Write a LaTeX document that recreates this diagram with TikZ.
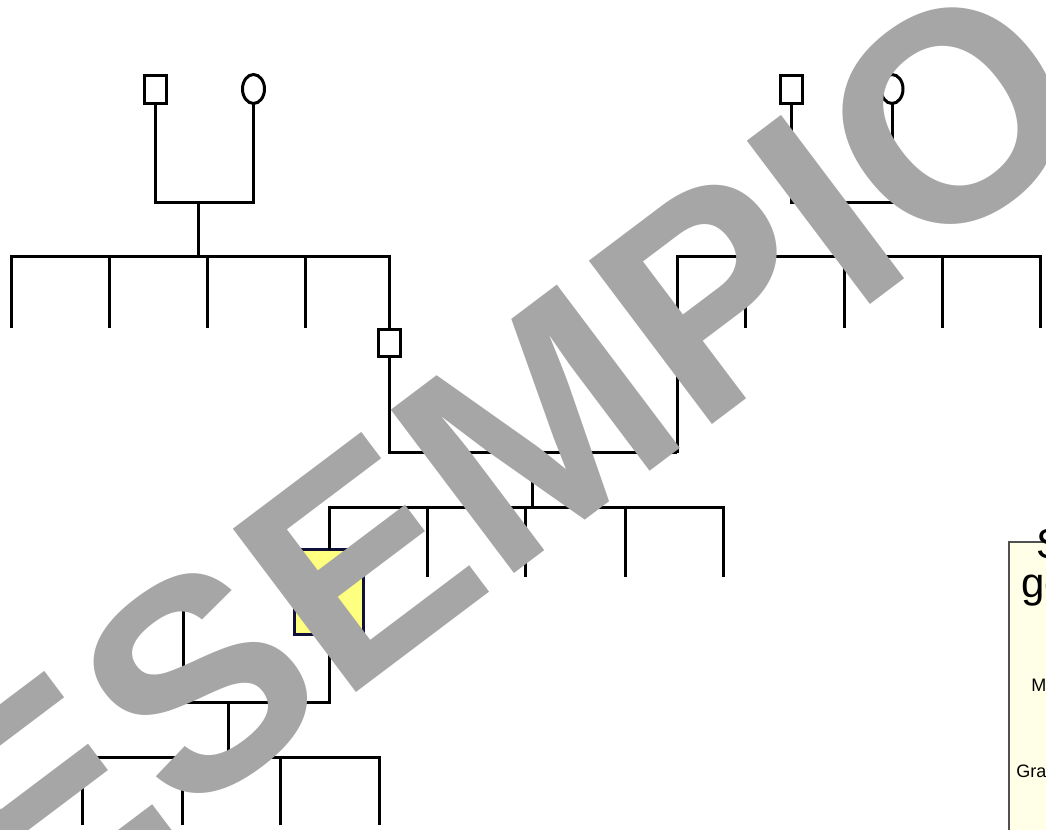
\documentclass[tikz,border=0pt]{standalone}
\usepackage{fontspec}
\setmainfont{Liberation Sans}
\usetikzlibrary{shapes.geometric}
\definecolor{wm}{HTML}{A6A6A6}
\definecolor{idxfill}{HTML}{FFFF80}
\definecolor{idxdraw}{HTML}{10103A}
\definecolor{legfill}{HTML}{FFFFE8}
\definecolor{legdraw}{HTML}{505050}
\begin{document}
\begin{tikzpicture}[x=0.75pt,y=-0.75pt,
  link/.style={line width=2.25pt, line join=miter},
  male/.style={draw, line width=2.25pt, minimum width=16.5pt, minimum height=21pt, inner sep=0pt, outer sep=0pt},
  female/.style={ellipse, draw, line width=2.25pt, minimum width=16.5pt, minimum height=21.75pt, inner sep=0pt, outer sep=0pt},
  indexbox/.style={draw=idxdraw, fill=idxfill, line width=2.25pt, minimum width=51.75pt, minimum height=63.75pt, inner sep=0pt, outer sep=0pt},
  bigleg/.style={anchor=base west, inner sep=0pt, font=\fontsize{31.5}{31.5}\selectfont},
  smallleg/.style={anchor=base west, inner sep=0pt, font=\fontsize{13.5}{13.5}\selectfont},
  watermark/.style={text=wm, rotate=37, inner sep=0pt, font=\fontsize{223}{223}\selectfont\bfseries}]
\useasboundingbox (0,0) rectangle (1046,830);
\clip (0,0) rectangle (1046,830);
\fill[white] (0,0) rectangle (1046,830);

% ---- left grandparents ----
\node[male] (gfL) at (155.5,89.5) {};
\node[female] (gmL) at (253.5,89) {};
\coordinate (mL) at (198,203);
\coordinate (sL) at (198,257);
\draw[link] (gfL.south) |- (mL) -| (gmL.south);
\draw[link] (mL) -- (sL);
\coordinate (uL1) at (11,328);
\coordinate (uL2) at (109,328);
\coordinate (uL3) at (207,328);
\coordinate (uL4) at (305,328);
\coordinate (tL) at (389.5,257);
\node[male, minimum height=20.25pt] (fa) at (389.5,343) {};
\draw[link] (uL1) |- (tL) -- (fa.north);
\foreach \u in {uL2,uL3,uL4} \draw[link] (\u) -- (\u |- tL);

% ---- right grandparents ----
\node[male] (gfR) at (791.5,89.5) {};
\node[female] (gmR) at (892,89) {};
\coordinate (mR) at (841,203);
\coordinate (sR) at (841,257);
\draw[link] (gfR.south) |- (mR) -| (gmR.south);
\draw[link] (mR) -- (sR);
\coordinate (tR0) at (677,257);
\coordinate (tR4) at (1040.5,257);
\coordinate (uR1) at (745,328);
\coordinate (uR2) at (844,328);
\coordinate (uR3) at (942,328);
\coordinate (uR4) at (1040.5,328);
\coordinate (cM) at (677,453);
\draw[link] (cM) -- (tR0) -- (tR4) -- (uR4);
\foreach \u in {uR1,uR2,uR3} \draw[link] (\u) -- (\u |- tR0);

% ---- parents' couple and siblings ----
\draw[link] (fa.south) |- (cM);
\coordinate (m2) at (532,453);
\coordinate (s2) at (532,507);
\draw[link] (m2) -- (s2);
\node[indexbox] (ix) at (329,592) {};
\coordinate (t2) at (329,507);
\coordinate (t5) at (723,507);
\coordinate (v2) at (427,577);
\coordinate (v3) at (525,577);
\coordinate (v4) at (625,577);
\coordinate (v5) at (723,577);
\draw[link] (ix.north) -- (t2) -- (t5) -- (v5);
\foreach \u in {v2,v3,v4} \draw[link] (\u) -- (\u |- t2);

% ---- index couple and children ----
\coordinate (k1) at (329,702);
\coordinate (k2) at (183,702);
\coordinate (k0) at (183,590);
\draw[link] (ix.south) -- (k1) -- (k2) -- (k0);
\coordinate (m3) at (228,702);
\coordinate (s3) at (228,757);
\draw[link] (m3) -- (s3);
\coordinate (w1) at (82,825);
\coordinate (w2) at (182,825);
\coordinate (w3) at (280,825);
\coordinate (w4) at (379,825);
\coordinate (t3) at (82,757);
\coordinate (t4) at (379,757);
\draw[link] (w1) -- (t3) -- (t4) -- (w4);
\foreach \u in {w2,w3} \draw[link] (\u) -- (\u |- t3);

% ---- legend panel ----
\draw[legdraw, fill=legfill, line width=1.1pt] (1009,542) rectangle (1080,860);
\node[bigleg] (leg1) at (1036,558) {S};
\node[bigleg] (leg2) at (1021,597) {ge};
\node[smallleg] (leg3) at (1031,691) {M};
\node[smallleg] (leg4) at (1016,777) {Gra};

% ---- watermark ----
\node[watermark] (wmark) at (503,454) {ESEMPIO};
\end{tikzpicture}
\end{document}
